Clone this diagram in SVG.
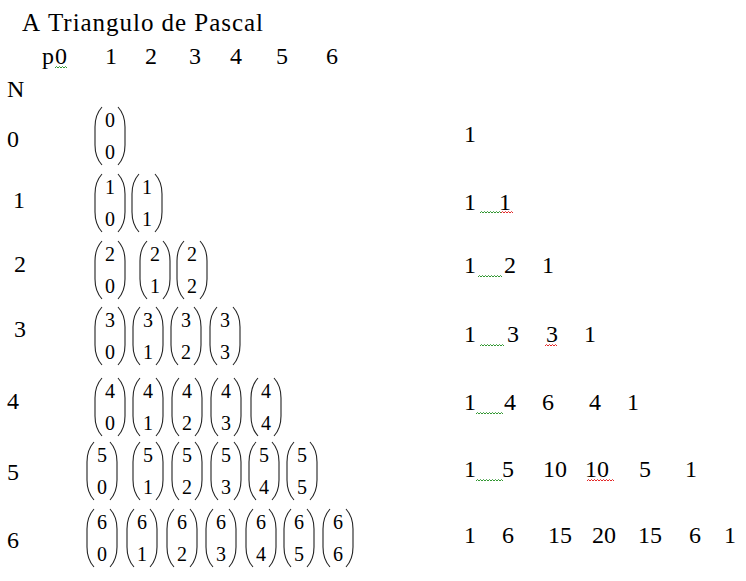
<svg xmlns="http://www.w3.org/2000/svg" width="746" height="581" viewBox="0 0 746 581" font-family="Times New Roman, Liberation Serif, serif">
<style>
.p{fill:none;stroke:#222;stroke-width:1.1}
.sg{fill:none;stroke:#1a8a1a;stroke-width:0.9}
.sr{fill:none;stroke:#e01010;stroke-width:0.9}
</style>
<rect width="746" height="581" fill="#fff"/>
<g id="title">
<text x="22" y="31" font-size="25" font-family="Times New Roman, Liberation Serif, serif">A</text>
<text x="48" y="31" font-size="25" font-family="Times New Roman, Liberation Serif, serif" textLength="215" lengthAdjust="spacing">Triangulo de Pascal</text>
</g>
<g id="header">
<text x="42" y="64" font-size="24" font-family="Times New Roman, Liberation Serif, serif">p</text>
<text x="55" y="64" font-size="24" font-family="Times New Roman, Liberation Serif, serif">0</text>
<text x="105" y="64" font-size="24" font-family="Times New Roman, Liberation Serif, serif">1</text>
<text x="145" y="64" font-size="24" font-family="Times New Roman, Liberation Serif, serif">2</text>
<text x="189" y="64" font-size="24" font-family="Times New Roman, Liberation Serif, serif">3</text>
<text x="230" y="64" font-size="24" font-family="Times New Roman, Liberation Serif, serif">4</text>
<text x="276" y="64" font-size="24" font-family="Times New Roman, Liberation Serif, serif">5</text>
<text x="326" y="64" font-size="24" font-family="Times New Roman, Liberation Serif, serif">6</text>
<path class="sg" d="M55,68 l1.5,-1.5 l1.5,1.5 l1.5,-1.5 l1.5,1.5 l1.5,-1.5 l1.5,1.5 l1.5,-1.5 l1.5,1.5"/>
<text x="7" y="97" font-size="24" font-family="Times New Roman, Liberation Serif, serif">N</text>
</g>
<g id="row-labels">
<text x="7" y="147" font-size="24" font-family="Times New Roman, Liberation Serif, serif">0</text>
<text x="13" y="208" font-size="24" font-family="Times New Roman, Liberation Serif, serif">1</text>
<text x="14" y="272" font-size="24" font-family="Times New Roman, Liberation Serif, serif">2</text>
<text x="14" y="337" font-size="24" font-family="Times New Roman, Liberation Serif, serif">3</text>
<text x="7" y="409" font-size="24" font-family="Times New Roman, Liberation Serif, serif">4</text>
<text x="7" y="480" font-size="24" font-family="Times New Roman, Liberation Serif, serif">5</text>
<text x="7" y="548" font-size="24" font-family="Times New Roman, Liberation Serif, serif">6</text>
</g>
<g id="brackets">
<path class="p" d="M102,107 c-5.5,6 -7,12 -7,20 v18 c0,8 1.5,14 7,20 M118,107 c5.5,6 7,12 7,20 v18 c0,8 -1.5,14 -7,20"/>
<path class="p" d="M102,174 c-5.5,6 -7,12 -7,20 v18 c0,8 1.5,14 7,20 M118,174 c5.5,6 7,12 7,20 v18 c0,8 -1.5,14 -7,20 M139,174 c-5.5,6 -7,12 -7,20 v18 c0,8 1.5,14 7,20 M155,174 c5.5,6 7,12 7,20 v18 c0,8 -1.5,14 -7,20"/>
<path class="p" d="M102,241 c-5.5,6 -7,12 -7,20 v18 c0,8 1.5,14 7,20 M118,241 c5.5,6 7,12 7,20 v18 c0,8 -1.5,14 -7,20 M147,241 c-5.5,6 -7,12 -7,20 v18 c0,8 1.5,14 7,20 M163,241 c5.5,6 7,12 7,20 v18 c0,8 -1.5,14 -7,20 M184,241 c-5.5,6 -7,12 -7,20 v18 c0,8 1.5,14 7,20 M200,241 c5.5,6 7,12 7,20 v18 c0,8 -1.5,14 -7,20"/>
<path class="p" d="M102,307 c-5.5,6 -7,12 -7,20 v18 c0,8 1.5,14 7,20 M118,307 c5.5,6 7,12 7,20 v18 c0,8 -1.5,14 -7,20 M140,307 c-5.5,6 -7,12 -7,20 v18 c0,8 1.5,14 7,20 M156,307 c5.5,6 7,12 7,20 v18 c0,8 -1.5,14 -7,20 M178,307 c-5.5,6 -7,12 -7,20 v18 c0,8 1.5,14 7,20 M194,307 c5.5,6 7,12 7,20 v18 c0,8 -1.5,14 -7,20 M217,307 c-5.5,6 -7,12 -7,20 v18 c0,8 1.5,14 7,20 M233,307 c5.5,6 7,12 7,20 v18 c0,8 -1.5,14 -7,20"/>
<path class="p" d="M102,378 c-5.5,6 -7,12 -7,20 v18 c0,8 1.5,14 7,20 M118,378 c5.5,6 7,12 7,20 v18 c0,8 -1.5,14 -7,20 M140,378 c-5.5,6 -7,12 -7,20 v18 c0,8 1.5,14 7,20 M156,378 c5.5,6 7,12 7,20 v18 c0,8 -1.5,14 -7,20 M179,378 c-5.5,6 -7,12 -7,20 v18 c0,8 1.5,14 7,20 M195,378 c5.5,6 7,12 7,20 v18 c0,8 -1.5,14 -7,20 M218,378 c-5.5,6 -7,12 -7,20 v18 c0,8 1.5,14 7,20 M234,378 c5.5,6 7,12 7,20 v18 c0,8 -1.5,14 -7,20 M258,378 c-5.5,6 -7,12 -7,20 v18 c0,8 1.5,14 7,20 M274,378 c5.5,6 7,12 7,20 v18 c0,8 -1.5,14 -7,20"/>
<path class="p" d="M94,442 c-5.5,6 -7,12 -7,20 v18 c0,8 1.5,14 7,20 M110,442 c5.5,6 7,12 7,20 v18 c0,8 -1.5,14 -7,20 M140,442 c-5.5,6 -7,12 -7,20 v18 c0,8 1.5,14 7,20 M156,442 c5.5,6 7,12 7,20 v18 c0,8 -1.5,14 -7,20 M179,442 c-5.5,6 -7,12 -7,20 v18 c0,8 1.5,14 7,20 M195,442 c5.5,6 7,12 7,20 v18 c0,8 -1.5,14 -7,20 M218,442 c-5.5,6 -7,12 -7,20 v18 c0,8 1.5,14 7,20 M234,442 c5.5,6 7,12 7,20 v18 c0,8 -1.5,14 -7,20 M256,442 c-5.5,6 -7,12 -7,20 v18 c0,8 1.5,14 7,20 M272,442 c5.5,6 7,12 7,20 v18 c0,8 -1.5,14 -7,20 M294,442 c-5.5,6 -7,12 -7,20 v18 c0,8 1.5,14 7,20 M310,442 c5.5,6 7,12 7,20 v18 c0,8 -1.5,14 -7,20"/>
<path class="p" d="M94,509 c-5.5,6 -7,12 -7,20 v18 c0,8 1.5,14 7,20 M110,509 c5.5,6 7,12 7,20 v18 c0,8 -1.5,14 -7,20 M134,509 c-5.5,6 -7,12 -7,20 v18 c0,8 1.5,14 7,20 M150,509 c5.5,6 7,12 7,20 v18 c0,8 -1.5,14 -7,20 M174,509 c-5.5,6 -7,12 -7,20 v18 c0,8 1.5,14 7,20 M190,509 c5.5,6 7,12 7,20 v18 c0,8 -1.5,14 -7,20 M213,509 c-5.5,6 -7,12 -7,20 v18 c0,8 1.5,14 7,20 M229,509 c5.5,6 7,12 7,20 v18 c0,8 -1.5,14 -7,20 M253,509 c-5.5,6 -7,12 -7,20 v18 c0,8 1.5,14 7,20 M269,509 c5.5,6 7,12 7,20 v18 c0,8 -1.5,14 -7,20 M291,509 c-5.5,6 -7,12 -7,20 v18 c0,8 1.5,14 7,20 M307,509 c5.5,6 7,12 7,20 v18 c0,8 -1.5,14 -7,20 M330,509 c-5.5,6 -7,12 -7,20 v18 c0,8 1.5,14 7,20 M346,509 c5.5,6 7,12 7,20 v18 c0,8 -1.5,14 -7,20"/>
</g>
<g id="binomial-digits" text-anchor="middle">
<text x="110" y="127" font-size="20" font-family="Times New Roman, Liberation Serif, serif">0</text>
<text x="110" y="159" font-size="20" font-family="Times New Roman, Liberation Serif, serif">0</text>
<text x="110" y="194" font-size="20" font-family="Times New Roman, Liberation Serif, serif">1</text>
<text x="110" y="226" font-size="20" font-family="Times New Roman, Liberation Serif, serif">0</text>
<text x="147" y="194" font-size="20" font-family="Times New Roman, Liberation Serif, serif">1</text>
<text x="147" y="226" font-size="20" font-family="Times New Roman, Liberation Serif, serif">1</text>
<text x="110" y="261" font-size="20" font-family="Times New Roman, Liberation Serif, serif">2</text>
<text x="110" y="293" font-size="20" font-family="Times New Roman, Liberation Serif, serif">0</text>
<text x="155" y="261" font-size="20" font-family="Times New Roman, Liberation Serif, serif">2</text>
<text x="155" y="293" font-size="20" font-family="Times New Roman, Liberation Serif, serif">1</text>
<text x="192" y="261" font-size="20" font-family="Times New Roman, Liberation Serif, serif">2</text>
<text x="192" y="293" font-size="20" font-family="Times New Roman, Liberation Serif, serif">2</text>
<text x="110" y="327" font-size="20" font-family="Times New Roman, Liberation Serif, serif">3</text>
<text x="110" y="359" font-size="20" font-family="Times New Roman, Liberation Serif, serif">0</text>
<text x="148" y="327" font-size="20" font-family="Times New Roman, Liberation Serif, serif">3</text>
<text x="148" y="359" font-size="20" font-family="Times New Roman, Liberation Serif, serif">1</text>
<text x="186" y="327" font-size="20" font-family="Times New Roman, Liberation Serif, serif">3</text>
<text x="186" y="359" font-size="20" font-family="Times New Roman, Liberation Serif, serif">2</text>
<text x="225" y="327" font-size="20" font-family="Times New Roman, Liberation Serif, serif">3</text>
<text x="225" y="359" font-size="20" font-family="Times New Roman, Liberation Serif, serif">3</text>
<text x="110" y="398" font-size="20" font-family="Times New Roman, Liberation Serif, serif">4</text>
<text x="110" y="430" font-size="20" font-family="Times New Roman, Liberation Serif, serif">0</text>
<text x="148" y="398" font-size="20" font-family="Times New Roman, Liberation Serif, serif">4</text>
<text x="148" y="430" font-size="20" font-family="Times New Roman, Liberation Serif, serif">1</text>
<text x="187" y="398" font-size="20" font-family="Times New Roman, Liberation Serif, serif">4</text>
<text x="187" y="430" font-size="20" font-family="Times New Roman, Liberation Serif, serif">2</text>
<text x="226" y="398" font-size="20" font-family="Times New Roman, Liberation Serif, serif">4</text>
<text x="226" y="430" font-size="20" font-family="Times New Roman, Liberation Serif, serif">3</text>
<text x="266" y="398" font-size="20" font-family="Times New Roman, Liberation Serif, serif">4</text>
<text x="266" y="430" font-size="20" font-family="Times New Roman, Liberation Serif, serif">4</text>
<text x="102" y="462" font-size="20" font-family="Times New Roman, Liberation Serif, serif">5</text>
<text x="102" y="494" font-size="20" font-family="Times New Roman, Liberation Serif, serif">0</text>
<text x="148" y="462" font-size="20" font-family="Times New Roman, Liberation Serif, serif">5</text>
<text x="148" y="494" font-size="20" font-family="Times New Roman, Liberation Serif, serif">1</text>
<text x="187" y="462" font-size="20" font-family="Times New Roman, Liberation Serif, serif">5</text>
<text x="187" y="494" font-size="20" font-family="Times New Roman, Liberation Serif, serif">2</text>
<text x="226" y="462" font-size="20" font-family="Times New Roman, Liberation Serif, serif">5</text>
<text x="226" y="494" font-size="20" font-family="Times New Roman, Liberation Serif, serif">3</text>
<text x="264" y="462" font-size="20" font-family="Times New Roman, Liberation Serif, serif">5</text>
<text x="264" y="494" font-size="20" font-family="Times New Roman, Liberation Serif, serif">4</text>
<text x="302" y="462" font-size="20" font-family="Times New Roman, Liberation Serif, serif">5</text>
<text x="302" y="494" font-size="20" font-family="Times New Roman, Liberation Serif, serif">5</text>
<text x="102" y="529" font-size="20" font-family="Times New Roman, Liberation Serif, serif">6</text>
<text x="102" y="561" font-size="20" font-family="Times New Roman, Liberation Serif, serif">0</text>
<text x="142" y="529" font-size="20" font-family="Times New Roman, Liberation Serif, serif">6</text>
<text x="142" y="561" font-size="20" font-family="Times New Roman, Liberation Serif, serif">1</text>
<text x="182" y="529" font-size="20" font-family="Times New Roman, Liberation Serif, serif">6</text>
<text x="182" y="561" font-size="20" font-family="Times New Roman, Liberation Serif, serif">2</text>
<text x="221" y="529" font-size="20" font-family="Times New Roman, Liberation Serif, serif">6</text>
<text x="221" y="561" font-size="20" font-family="Times New Roman, Liberation Serif, serif">3</text>
<text x="261" y="529" font-size="20" font-family="Times New Roman, Liberation Serif, serif">6</text>
<text x="261" y="561" font-size="20" font-family="Times New Roman, Liberation Serif, serif">4</text>
<text x="299" y="529" font-size="20" font-family="Times New Roman, Liberation Serif, serif">6</text>
<text x="299" y="561" font-size="20" font-family="Times New Roman, Liberation Serif, serif">5</text>
<text x="338" y="529" font-size="20" font-family="Times New Roman, Liberation Serif, serif">6</text>
<text x="338" y="561" font-size="20" font-family="Times New Roman, Liberation Serif, serif">6</text>
</g>
<g id="squiggles">
<path class="sg" d="M480,213 l1.5,-1.5 l1.5,1.5 l1.5,-1.5 l1.5,1.5 l1.5,-1.5 l1.5,1.5 l1.5,-1.5 l1.5,1.5 l1.5,-1.5 l1.5,1.5 l1.5,-1.5 l1.5,1.5 l1.5,-1.5 l1.5,1.5 M478,277 l1.5,-1.5 l1.5,1.5 l1.5,-1.5 l1.5,1.5 l1.5,-1.5 l1.5,1.5 l1.5,-1.5 l1.5,1.5 l1.5,-1.5 l1.5,1.5 l1.5,-1.5 l1.5,1.5 l1.5,-1.5 l1.5,1.5 l1.5,-1.5 l1.5,1.5 M480,346 l1.5,-1.5 l1.5,1.5 l1.5,-1.5 l1.5,1.5 l1.5,-1.5 l1.5,1.5 l1.5,-1.5 l1.5,1.5 l1.5,-1.5 l1.5,1.5 l1.5,-1.5 l1.5,1.5 l1.5,-1.5 l1.5,1.5 l1.5,-1.5 l1.5,1.5 M476,414 l1.5,-1.5 l1.5,1.5 l1.5,-1.5 l1.5,1.5 l1.5,-1.5 l1.5,1.5 l1.5,-1.5 l1.5,1.5 l1.5,-1.5 l1.5,1.5 l1.5,-1.5 l1.5,1.5 l1.5,-1.5 l1.5,1.5 l1.5,-1.5 l1.5,1.5 l1.5,-1.5 l1.5,1.5 M476,481 l1.5,-1.5 l1.5,1.5 l1.5,-1.5 l1.5,1.5 l1.5,-1.5 l1.5,1.5 l1.5,-1.5 l1.5,1.5 l1.5,-1.5 l1.5,1.5 l1.5,-1.5 l1.5,1.5 l1.5,-1.5 l1.5,1.5 l1.5,-1.5 l1.5,1.5 l1.5,-1.5 l1.5,1.5"/>
<path class="sr" d="M501,213 l1.5,-1.5 l1.5,1.5 l1.5,-1.5 l1.5,1.5 l1.5,-1.5 l1.5,1.5 l1.5,-1.5 l1.5,1.5 M545,346 l1.5,-1.5 l1.5,1.5 l1.5,-1.5 l1.5,1.5 l1.5,-1.5 l1.5,1.5 l1.5,-1.5 l1.5,1.5 M587,481 l1.5,-1.5 l1.5,1.5 l1.5,-1.5 l1.5,1.5 l1.5,-1.5 l1.5,1.5 l1.5,-1.5 l1.5,1.5 l1.5,-1.5 l1.5,1.5 l1.5,-1.5 l1.5,1.5 l1.5,-1.5 l1.5,1.5 l1.5,-1.5 l1.5,1.5 l1.5,-1.5 l1.5,1.5"/>
</g>
<g id="values">
<text x="464" y="142" font-size="24" font-family="Times New Roman, Liberation Serif, serif">1</text>
<text x="464" y="210" font-size="24" font-family="Times New Roman, Liberation Serif, serif">1</text>
<text x="499" y="210" font-size="24" font-family="Times New Roman, Liberation Serif, serif">1</text>
<text x="464" y="273" font-size="24" font-family="Times New Roman, Liberation Serif, serif">1</text>
<text x="504" y="273" font-size="24" font-family="Times New Roman, Liberation Serif, serif">2</text>
<text x="542" y="273" font-size="24" font-family="Times New Roman, Liberation Serif, serif">1</text>
<text x="464" y="342" font-size="24" font-family="Times New Roman, Liberation Serif, serif">1</text>
<text x="507" y="342" font-size="24" font-family="Times New Roman, Liberation Serif, serif">3</text>
<text x="546" y="342" font-size="24" font-family="Times New Roman, Liberation Serif, serif">3</text>
<text x="584" y="342" font-size="24" font-family="Times New Roman, Liberation Serif, serif">1</text>
<text x="464" y="410" font-size="24" font-family="Times New Roman, Liberation Serif, serif">1</text>
<text x="504" y="410" font-size="24" font-family="Times New Roman, Liberation Serif, serif">4</text>
<text x="542" y="410" font-size="24" font-family="Times New Roman, Liberation Serif, serif">6</text>
<text x="589" y="410" font-size="24" font-family="Times New Roman, Liberation Serif, serif">4</text>
<text x="627" y="410" font-size="24" font-family="Times New Roman, Liberation Serif, serif">1</text>
<text x="464" y="477" font-size="24" font-family="Times New Roman, Liberation Serif, serif">1</text>
<text x="502" y="477" font-size="24" font-family="Times New Roman, Liberation Serif, serif">5</text>
<text x="543" y="477" font-size="24" font-family="Times New Roman, Liberation Serif, serif">10</text>
<text x="585" y="477" font-size="24" font-family="Times New Roman, Liberation Serif, serif">10</text>
<text x="639" y="477" font-size="24" font-family="Times New Roman, Liberation Serif, serif">5</text>
<text x="685" y="477" font-size="24" font-family="Times New Roman, Liberation Serif, serif">1</text>
<text x="464" y="543" font-size="24" font-family="Times New Roman, Liberation Serif, serif">1</text>
<text x="502" y="543" font-size="24" font-family="Times New Roman, Liberation Serif, serif">6</text>
<text x="548" y="543" font-size="24" font-family="Times New Roman, Liberation Serif, serif">15</text>
<text x="592" y="543" font-size="24" font-family="Times New Roman, Liberation Serif, serif">20</text>
<text x="638" y="543" font-size="24" font-family="Times New Roman, Liberation Serif, serif">15</text>
<text x="689" y="543" font-size="24" font-family="Times New Roman, Liberation Serif, serif">6</text>
<text x="724" y="543" font-size="24" font-family="Times New Roman, Liberation Serif, serif">1</text>
</g>
</svg>
